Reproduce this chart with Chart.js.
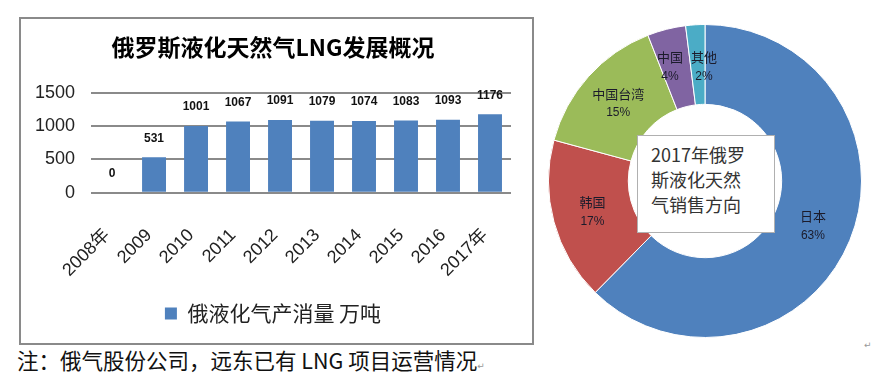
<!DOCTYPE html>
<html>
<head>
<meta charset="utf-8">
<script src="https://cdn.jsdelivr.net/npm/chart.js@4"></script>
<style>
  html, body { margin: 0; padding: 0; background: #fff; }
  body { width: 872px; height: 391px; position: relative; overflow: hidden;
         font-family: "Noto Sans CJK SC", sans-serif; }
  #barBox { position: absolute; left: 19px; top: 17px; width: 515px; height: 328px;
            border: 2px solid #8a8a8a; box-sizing: border-box; background: #fff; }
  #pieBox { position: absolute; left: 548px; top: 24px; width: 314px; height: 314px; }
  #centerNote { position: absolute; left: 637px; top: 135px; width: 138px; height: 98px;
                box-sizing: border-box; border: 1px solid #b0b0b0; background: #fff;
                padding: 6px 0 0 13px; font-size: 18px; line-height: 25px; color: #333; }
  #footnote { position: absolute; left: 17px; top: 346px; font-size: 21.5px; line-height: 28px;
              color: #111; white-space: nowrap; }
  .mark { font-size: 9px; color: #999; font-family: "DejaVu Sans", sans-serif; }
  #cornerMark { position: absolute; left: 864px; top: 340px; }
</style>
</head>
<body>
<div id="barBox"><canvas id="barChart"></canvas></div>
<div id="pieBox"><canvas id="pieChart"></canvas></div>
<div id="centerNote">2017年俄罗<br>斯液化天然<br>气销售方向</div>
<div id="footnote">注：俄气股份公司，远东已有 LNG 项目运营情况<span class="mark">↵</span></div>
<div id="cornerMark" class="mark">↵</div>
<script>
// 左图：俄罗斯LNG产消量（万吨）
const years = ['2008年', '2009', '2010', '2011', '2012', '2013', '2014', '2015', '2016', '2017年'];
const output = [0, 531, 1001, 1067, 1091, 1079, 1074, 1083, 1093, 1176];
const seriesName = '俄液化气产消量 万吨';
const yMin = 0;
const yMax = 1500;
const yStep = 500;

// 右图：2017年销售方向（%）
const markets = ['日本', '韩国', '中国台湾', '中国', '其他'];
const shares = [63, 17, 15, 4, 2];
const marketColors = ['#4F81BD', '#C0504D', '#9BBB59', '#8064A2', '#4BACC6'];

const latin = '"Liberation Sans", Arial, "Noto Sans CJK SC", sans-serif';
const cjk = '"Noto Sans CJK SC", sans-serif';

// 柱顶数值标签
const barValueLabels = {
    id: 'barValueLabels',
    afterDatasetsDraw(chart) {
        const ctx = chart.ctx;
        const meta = chart.getDatasetMeta(0);
        ctx.save();
        ctx.font = 'bold 12px ' + latin;
        ctx.fillStyle = '#111';
        ctx.textAlign = 'center';
        ctx.textBaseline = 'middle';
        meta.data.forEach((bar, i) => {
            ctx.fillText(String(output[i]), bar.x, bar.y - 19);
        });
        ctx.restore();
    }
};

// 环形图扇区标签（相邻标签重叠时左右错开）
const sliceLabels = {
    id: 'sliceLabels',
    afterDatasetsDraw(chart) {
        const ctx = chart.ctx;
        const meta = chart.getDatasetMeta(0);
        ctx.save();
        ctx.fillStyle = '#1b1b2b';
        ctx.textAlign = 'center';
        ctx.textBaseline = 'middle';
        ctx.font = '13px ' + cjk;
        const spots = meta.data.map((arc, i) => {
            const p = arc.getCenterPoint();
            return { x: p.x, y: p.y, w: ctx.measureText(markets[i]).width };
        });
        for (let i = 1; i < spots.length; i++) {
            const a = spots[i - 1], b = spots[i];
            if (Math.abs(a.y - b.y) < 30) {
                const need = (a.w + b.w) / 2 + 8 - Math.abs(b.x - a.x);
                if (need > 0) {
                    const dir = b.x >= a.x ? 1 : -1;
                    a.x -= dir * need / 2;
                    b.x += dir * need / 2;
                    const my = (a.y + b.y) / 2;
                    a.y = my; b.y = my;
                }
            }
        }
        spots.forEach((s, i) => {
            ctx.font = '13px ' + cjk;
            ctx.fillText(markets[i], s.x, s.y - 9);
            ctx.font = '12px ' + latin;
            ctx.fillText(shares[i] + '%', s.x, s.y + 10);
        });
        ctx.restore();
    }
};

new Chart(document.getElementById('barChart'), {
    type: 'bar',
    data: {
        labels: years,
        datasets: [{
            label: seriesName,
            data: output,
            backgroundColor: '#4F81BD',
            borderWidth: 0,
            categoryPercentage: 1,
            barPercentage: 0.57
        }]
    },
    options: {
        responsive: true,
        maintainAspectRatio: false,
        animation: false,
        layout: { padding: { left: 14, right: 21, bottom: 9 } },
        plugins: {
            title: {
                display: true,
                text: '俄罗斯液化天然气LNG发展概况',
                color: '#000',
                font: { family: cjk, size: 23, weight: 'bold' },
                padding: { top: 14, bottom: 32 }
            },
            legend: {
                position: 'bottom',
                labels: {
                    color: '#222',
                    font: { family: cjk, size: 21 },
                    boxWidth: 12,
                    boxHeight: 12,
                    padding: 4
                }
            },
            tooltip: { enabled: false }
        },
        scales: {
            x: {
                grid: { display: false },
                border: { display: false },
                ticks: {
                    color: '#222',
                    font: { family: latin, size: 18 },
                    minRotation: 45,
                    maxRotation: 45,
                    padding: 24,
                    labelOffset: -5
                },
                // 斜排标签允许伸到纵轴标签下方，不挤压绘图区
                afterFit(scale) {
                    scale.paddingLeft = 0;
                    scale.paddingRight = 0;
                    scale.height -= 6;
                }
            },
            y: {
                min: yMin,
                max: yMax,
                grid: { color: '#8a8a8a', lineWidth: 2, drawTicks: false },
                border: { display: false },
                ticks: {
                    stepSize: yStep,
                    color: '#222',
                    font: { family: latin, size: 18 },
                    padding: 16,
                    callback: (v) => String(v)
                },
                // 只保留标签右侧的间距
                afterFit(scale) {
                    scale.width -= scale.options.ticks.padding;
                }
            }
        }
    },
    plugins: [barValueLabels]
});

new Chart(document.getElementById('pieChart'), {
    type: 'doughnut',
    data: {
        labels: markets,
        datasets: [{
            data: shares,
            backgroundColor: marketColors,
            borderColor: '#ffffff',
            borderWidth: 1
        }]
    },
    options: {
        responsive: true,
        maintainAspectRatio: false,
        animation: false,
        cutout: '49%',
        plugins: {
            legend: { display: false },
            tooltip: { enabled: false }
        }
    },
    plugins: [sliceLabels]
});
</script>
</body>
</html>
